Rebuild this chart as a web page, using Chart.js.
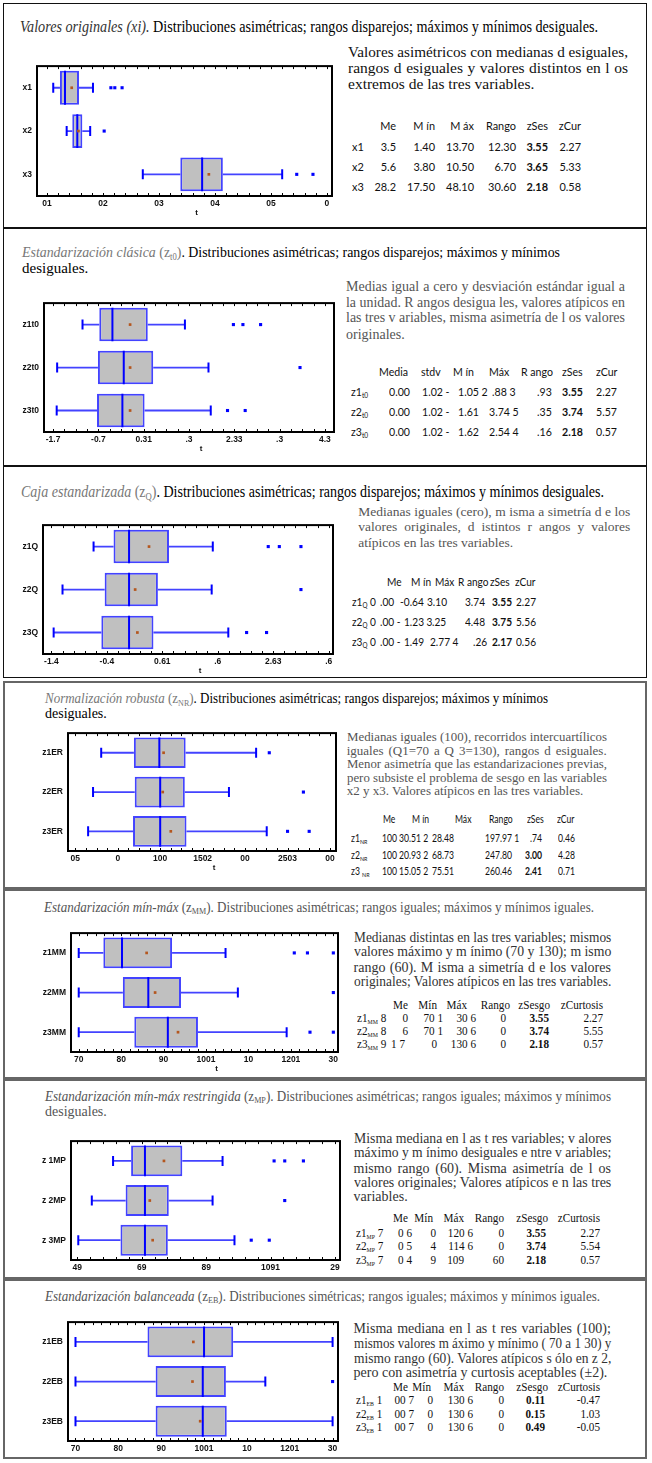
<!DOCTYPE html>
<html lang="es">
<head>
<meta charset="utf-8">
<title>Estandarizaciones</title>
<script src="https://cdn.jsdelivr.net/npm/chart.js@4.4.1/dist/chart.umd.min.js"></script>
<style>
  html, body { margin: 0; padding: 0; background: #fff; }
  body { position: relative; width: 652px; height: 1463px; overflow: hidden; }
  .panel { position: absolute; box-sizing: border-box; }
  .tx { position: absolute; white-space: nowrap; transform-origin: left center; }
  .tx sub { font-size: 0.62em; vertical-align: baseline; position: relative; top: 0.3em; }
  canvas { position: absolute; }
</style>
</head>
<body>
<script>
// --- Valores originales
const p1Labels = ['x1', 'x2', 'x3'];
const p1Boxes = [[11.1, 12.3, 13.2, 15.7, 18.2], [13.5, 14.5, 15.4, 16.3, 17.7], [27.1, 33.8, 37.7, 41.4, 52.0]];
const p1Means = [14.4, 15.6, 38.9];
const p1Outliers = [[21.4, 22.1, 23.4], [20.2], [54.6, 57.5]];
const p1Ticks = [10, 20, 30, 40, 50, 60];
const p1TickLabels = ['01', '02', '03', '04', '05', '0'];

// --- Estandarizacion clasica
const p2Labels = ['z1t0', 'z2t0', 'z3t0'];
const p2Boxes = [[-1.05, -0.68, -0.39, 0.39, 1.21], [-1.61, -0.71, -0.14, 0.51, 1.73], [-1.62, -0.73, -0.17, 0.32, 1.78]];
const p2Means = [0, 0, 0];
const p2Outliers = [[2.28, 2.49, 2.88], [3.75], [2.15, 2.54]];
const p2Ticks = [-1.7, -0.7, 0.3, 1.3, 2.3, 3.3, 4.3];
const p2TickLabels = ['-1.7', '-0.7', '0.31', '.3', '2.33', '.3', '4.3'];

// --- Caja estandarizada
const p3Labels = ['z1Q', 'z2Q', 'z3Q'];
const p3Boxes = [[-0.64, -0.28, 0, 0.72, 1.51], [-1.2, -0.44, 0, 0.52, 1.49], [-1.36, -0.5, 0, 0.44, 1.79]];
const p3Means = [0.36, 0.11, 0.15];
const p3Outliers = [[2.51, 2.71, 3.1], [3.1], [2.12, 2.48]];
const p3Ticks = [-1.4, -0.4, 0.6, 1.6, 2.6, 3.6];
const p3TickLabels = ['-1.4', '-0.4', '0.61', '.6', '2.63', '.6'];

// --- Normalizacion robusta
const p4Labels = ['z1ER', 'z2ER', 'z3ER'];
const p4Boxes = [[30.5, 69, 99, 130, 213], [20.9, 70, 100, 129, 181], [15.1, 68, 100, 131, 225.5]];
const p4Means = [104, 103, 112.5];
const p4Outliers = [[228.5], [268.7], [250, 275.5]];
const p4Ticks = [0, 50, 100, 150, 200, 250, 300];
const p4TickLabels = ['05', '0', '100', '1502', '00', '2503', '00'];

// --- min-max
const p5Labels = ['z1MM', 'z2MM', 'z3MM'];
const p5Boxes = [[70, 75.8, 80.2, 92.0, 104.6], [70, 80.4, 86.4, 94.1, 107.5], [70, 83.1, 91.0, 98.1, 119.0]];
const p5Means = [86.0, 88.0, 93.4];
const p5Outliers = [[120.8, 123.9, 130], [130], [124.5, 130]];
const p5Ticks = [70, 80, 90, 100, 110, 120, 130];
const p5TickLabels = ['70', '80', '90', '1001', '10', '1201', '30'];

// --- min-max restringida
const p6Labels = ['z 1MP', 'z 2MP', 'z 3MP'];
const p6Boxes = [[60.1, 65.7, 70, 81.6, 94.1], [53.5, 64.0, 70, 77.4, 91.0], [49.3, 62.4, 70, 77.1, 97.8]];
const p6Means = [75.9, 71.5, 72.4];
const p6Outliers = [[110.1, 113.4, 119.2], [113.4], [103, 108.6]];
const p6Ticks = [49, 69, 89, 109, 129];
const p6TickLabels = ['49', '69', '89', '1091', '29'];

// --- balanceada
const p7Labels = ['z1EB', 'z2EB', 'z3EB'];
const p7Boxes = [[70, 86.8, 100, 106.8, 130], [70, 88.7, 99.7, 105.1, 114.3], [70, 88.7, 99.7, 105.3, 130]];
const p7Means = [97.5, 97.3, 99.1];
const p7Outliers = [[], [130], []];
const p7Ticks = [70, 80, 90, 100, 110, 120, 130];
const p7TickLabels = ['70', '80', '90', '1001', '10', '1201', '30'];

const BLUE = '#0000ff';
const BOX_EDGE = 'rgba(20, 20, 255, 0.8)';
const MEAN_COLOR = '#b4561e';
const SERIF = '"Liberation Serif", "Times New Roman", serif';
const SANS = 'Lato, "Liberation Sans", sans-serif';

Chart.defaults.font.family = '"Liberation Sans", Arial, sans-serif';

// panel frames
const panels = [
  [3, 3, 647, 228, '1.5px solid #111'],
  [3, 228, 647, 466, '1.5px solid #111'],
  [3, 466, 647, 678, '1.5px solid #111'],
  [3, 681, 647, 889, '2px solid #666'],
  [3, 889, 647, 1078.5, '2px solid #666'],
  [3, 1078.5, 647, 1279, '2px solid #666'],
  [3, 1279, 647, 1459, '2px solid #666']
];
panels.forEach(([l, t, r, b, border]) => {
  const d = document.createElement('div');
  d.className = 'panel';
  d.style.left = l + 'px';
  d.style.top = t + 'px';
  d.style.width = (r - l) + 'px';
  d.style.height = (b - t) + 'px';
  d.style.border = border;
  document.body.appendChild(d);
});

function addText(html, x, y, size, family, color) {
  const el = document.createElement('div');
  el.className = 'tx';
  el.style.left = x + 'px';
  el.style.top = (y - size * 0.62) + 'px';
  el.style.fontSize = size + 'px';
  el.style.lineHeight = (size * 1.2) + 'px';
  el.style.fontFamily = family;
  el.style.color = color;
  el.innerHTML = html;
  document.body.appendChild(el);
  return el;
}

// stretch or squeeze one line to the width it has in the picture
function spread(el, w) {
  const nat = el.getBoundingClientRect().width;
  const gaps = (el.textContent.match(/ /g) || []).length;
  if (nat > w) {
    el.style.transform = 'scaleX(' + (w / nat) + ')';
  } else if (gaps) {
    el.style.wordSpacing = ((w - nat) / gaps) + 'px';
  }
}

function squeeze(el, w) {
  const nat = el.getBoundingClientRect().width;
  if (nat > w) el.style.transform = 'scaleX(' + (w / nat) + ')';
}

// titles
const titles = [
  { x: 20, y: 27, size: 16, w: 578, color: '#000', html: '<i style="color:#333">Valores originales (xi).</i> Distribuciones asimétricas; rangos disparejos; máximos y mínimos desiguales.' },
  { x: 22, y: 252.7, size: 15, w: 538, color: '#000', html: '<i style="color:#777">Estandarización clásica</i> <span style="color:#777">(z<sub>t0</sub>)</span>. Distribuciones asimétricas; rangos disparejos; máximos y mínimos' },
  { x: 22, y: 268.3, size: 15, color: '#000', html: 'desiguales.' },
  { x: 21, y: 491.7, size: 16, w: 583, color: '#000', html: '<i style="color:#777">Caja estandarizada</i> <span style="color:#777">(z<sub>Q</sub>)</span>. Distribuciones asimétricas; rangos disparejos; máximos y mínimos desiguales.' },
  { x: 45, y: 700, size: 14, w: 503, color: '#000', html: '<i style="color:#777">Normalización robusta</i> <span style="color:#777">(z<sub>NR</sub>)</span>. Distribuciones asimétricas; rangos disparejos; máximos y mínimos' },
  { x: 45, y: 714.3, size: 14, color: '#000', html: 'desiguales.' },
  { x: 44.3, y: 908.3, size: 14, w: 550, color: '#555', html: '<i>Estandarización mín-máx</i> (z<sub>MM</sub>). Distribuciones asimétricas; rangos iguales; máximos y mínimos iguales.' },
  { x: 45, y: 1097.3, size: 14, w: 566, color: '#555', html: '<i>Estandarización mín-máx restringida</i> (z<sub>MP</sub>). Distribuciones asimétricas; rangos iguales; máximos y mínimos' },
  { x: 45, y: 1112.3, size: 14, color: '#555', html: 'desiguales.' },
  { x: 45, y: 1297.3, size: 14, w: 555, color: '#555', html: '<i>Estandarización balanceada</i> (z<sub>EB</sub>). Distribuciones simétricas; rangos iguales; máximos y mínimos iguales.' }
];
titles.forEach(t => {
  const el = addText(t.html, t.x, t.y, t.size, SERIF, t.color);
  if (t.w) spread(el, t.w);
});

// paragraphs, one entry per printed line
const paras = [
  { x: 348, w: 280, size: 15.5, color: '#111', ys: [52.7, 69, 84.3], lines: [
    'Valores asimétricos con medianas d esiguales,',
    'rangos d esiguales y valores distintos en l os',
    'extremos de las tres variables.'] },
  { x: 346, w: 279, size: 14, color: '#555', ys: [287.7, 303.3, 319, 335.7], lines: [
    'Medias igual a cero y desviación estándar igual a',
    'la unidad. R angos desigua les, valores atípicos en',
    'las tres v ariables, misma asimetría de l os valores',
    'originales.'] },
  { x: 358.3, w: 272, size: 13.5, color: '#555', ys: [512.7, 527.7, 543.3], lines: [
    'Medianas iguales (cero), m isma a simetría d e los',
    'valores originales, d istintos r angos y valores',
    'atípicos en las tres variables.'] },
  { x: 346.7, w: 260, size: 13, color: '#555', ys: [737.3, 751, 764, 777.7, 790.7], lines: [
    'Medianas iguales (100), recorridos intercuartílicos',
    'iguales (Q1=70 a Q 3=130), rangos d esiguales.',
    'Menor asimetría que las estandarizaciones previas,',
    'pero subsiste el problema de sesgo en las variables',
    'x2 y x3. Valores atípicos en las tres variables.'] },
  { x: 353.6, w: 257.3, size: 14, color: '#333', ys: [938.3, 952.7, 968.7, 982.7], lines: [
    'Medianas distintas en las tres variables; mismos',
    'valores máximo y m ínimo (70 y 130); m ismo',
    'rango (60). M isma a simetría d e los valores',
    'originales; Valores atípicos en las tres variables.'] },
  { x: 353.6, w: 257.3, size: 14, color: '#333', ys: [1139.3, 1153.3, 1169.3, 1183.3, 1198], lines: [
    'Misma mediana en l as t res variables; v alores',
    'máximo y m ínimo desiguales e ntre v ariables;',
    'mismo rango (60). Misma asimetría de l os',
    'valores originales; Valores atípicos e n las tres',
    'variables.'] },
  { x: 353.6, w: 257.3, size: 14, color: '#333', ys: [1330, 1344.3, 1359.3, 1374], lines: [
    'Misma mediana en l as t res variables (100);',
    'mismos valores m áximo y mínimo ( 70 a 1 30) y',
    'mismo rango (60). Valores atípicos s ólo en z 2,',
    'pero con asimetría y curtosis aceptables (±2).'] }
];
paras.forEach(p => {
  p.lines.forEach((line, i) => {
    const el = addText(line, p.x, p.ys[i], p.size, SERIF, p.color);
    if (i < p.lines.length - 1) spread(el, p.w);
    else squeeze(el, p.w);
  });
});

// tables: [y, row label, cells, x of each cell]
const tables = [
  { family: SANS, size: 11.5, sx: 0.95, sub: '0.62em', color: '#111', align: 'right', labelX: 351.7, rows: [
    [126, '', ['Me', 'M ín', 'M áx', 'Rango', 'zSes', 'zCur'], [396, 435, 474, 516, 548, 581]],
    [146.7, 'x1', ['3.5', '1.40', '13.70', '12.30', '<b>3.55</b>', '2.27'], [396, 435, 474, 516, 548, 581]],
    [166.7, 'x2', ['5.6', '3.80', '10.50', '6.70', '<b>3.65</b>', '5.33'], [396, 435, 474, 516, 548, 581]],
    [186.7, 'x3', ['28.2', '17.50', '48.10', '30.60', '<b>2.18</b>', '0.58'], [396, 435, 474, 516, 548, 581]]] },
  { family: SANS, size: 11.5, sx: 0.92, sub: '0.62em', color: '#111', align: 'left', labelX: 350.7, rows: [
    [371.7, '', ['Media', 'stdv', 'M ín', 'Máx', 'R ango', 'zSes', 'zCur'], [379, 420.7, 453, 489, 520.7, 562, 595.7]],
    [391.7, 'z1<sub>t0</sub>', ['0.00', '1.02 -', '1.05 2', '.88 3', '.93', '<b>3.55</b>', '2.27'], [389, 421.7, 458, 492, 537, 562, 596]],
    [411.7, 'z2<sub>t0</sub>', ['0.00', '1.02 -', '1.61', '3.74 5', '.35', '<b>3.74</b>', '5.57'], [389, 421.7, 458, 489, 537, 562, 596]],
    [431.7, 'z3<sub>t0</sub>', ['0.00', '1.02 -', '1.62', '2.54 4', '.16', '<b>2.18</b>', '0.57'], [389, 421.7, 458, 489, 537, 562, 596]]] },
  { family: SANS, size: 11.5, sx: 0.88, sub: '0.62em', color: '#111', align: 'left', labelX: 351.7, rows: [
    [581.7, '', ['Me', 'M ín', 'Máx', 'R ango', 'zSes', 'zCur'], [386.7, 410.7, 435, 458.3, 490, 515]],
    [601.7, 'z1<sub>Q</sub> 0', ['.00', '-0.64', '3.10', '3.74', '<b>3.55</b>', '2.27'], [380, 400, 427.3, 465, 492.3, 515.7]],
    [621.7, 'z2<sub>Q</sub> 0', ['.00 -', '1.23 3', '.25', '4.48', '<b>3.75</b>', '5.56'], [380, 404, 431.7, 465, 492.3, 515.7]],
    [641.7, 'z3<sub>Q</sub> 0', ['.00 -', '1.49', '2.77 4', '.26', '<b>2.17</b>', '0.56'], [380, 404, 430, 472.7, 492.3, 515.7]]] },
  { family: SANS, size: 10.5, sx: 0.82, sub: '0.62em', color: '#111', align: 'left', labelX: 350.7, rows: [
    [820, '', ['Me', 'M ín', 'Máx', 'Rango', 'zSes', 'zCur'], [383.3, 411.7, 455, 489.3, 526.7, 556.7]],
    [838.3, 'z1<sub>NR</sub>', ['100', '30.51 2', '28.48', '197.97 1', '.74', '0.46'], [381.7, 398.6, 432.3, 485, 530, 557.7]],
    [855.7, 'z2<sub>NR</sub>', ['100', '20.93 2', '68.73', '247.80', '<b>3.00</b>', '4.28'], [381.7, 398.6, 432.3, 485, 525, 557.7]],
    [871.7, 'z3 <sub>NR</sub>', ['100', '15.05 2', '75.51', '260.46', '<b>2.41</b>', '0.71'], [381.7, 398.6, 432.3, 485, 525, 557.7]]] },
  { family: SERIF, size: 13, sx: 0.86, sub: '0.52em', color: '#111', align: 'right', labelX: 357, rows: [
    [1005, '', ['Me', 'Mín', 'Máx', 'Rango', 'zSesgo', 'zCurtosis'], [408, 437, 466.5, 509.6, 550, 602.5]],
    [1017.7, 'z1<sub>MM</sub> 8', ['0', '70 1', '30 6', '0', '<b>3.55</b>', '2.27'], [408, 442.7, 476, 506, 549, 602.5]],
    [1031, 'z2<sub>MM</sub> 8', ['6', '70 1', '30 6', '0', '<b>3.74</b>', '5.55'], [408, 442.7, 476, 506, 549, 602.5]],
    [1044.3, 'z3<sub>MM</sub> 9', ['1 7', '0', '130 6', '0', '<b>2.18</b>', '0.57'], [405, 437, 476, 506, 549, 602.5]]] },
  { family: SERIF, size: 13, sx: 0.86, sub: '0.52em', color: '#111', align: 'right', labelX: 355.6, rows: [
    [1218.3, '', ['Me', 'Mín', 'Máx', 'Rango', 'zSesgo', 'zCurtosis'], [408, 433, 464.4, 504, 548, 600.4]],
    [1232.7, 'z1<sub>MP</sub> 7', ['0 6', '0', '120 6', '0', '<b>3.55</b>', '2.27'], [412, 436, 473, 504, 546, 600]],
    [1245.7, 'z2<sub>MP</sub> 7', ['0 5', '4', '114 6', '0', '<b>3.74</b>', '5.54'], [412, 436, 473, 504, 546, 600]],
    [1260, 'z3<sub>MP</sub> 7', ['0 4', '9', '109', '60', '<b>2.18</b>', '0.57'], [412, 436, 464, 504, 546, 600]]] },
  { family: SERIF, size: 13, sx: 0.86, sub: '0.52em', color: '#111', align: 'right', labelX: 355.6, rows: [
    [1387.3, '', ['Me', 'Mín', 'Máx', 'Rango', 'zSesgo', 'zCurtosis'], [408, 431, 464.4, 504, 548, 600.4]],
    [1400, 'z1<sub>EB</sub> 1', ['00 7', '0', '130 6', '0', '<b>0.11</b>', '-0.47'], [414, 433, 473, 504, 545, 600]],
    [1414, 'z2<sub>EB</sub> 1', ['00 7', '0', '130 6', '0', '<b>0.15</b>', '1.03'], [414, 433, 473, 504, 545, 600]],
    [1426.7, 'z3<sub>EB</sub> 1', ['00 7', '0', '130 6', '0', '<b>0.49</b>', '-0.05'], [414, 433, 473, 504, 545, 600]]] }
];
tables.forEach(t => {
  t.rows.forEach(([y, label, cells, xs]) => {
    if (label) {
      const lab = addText(label, t.labelX, y, t.size, t.family, t.color);
      lab.style.transform = 'scaleX(' + t.sx + ')';
      lab.querySelectorAll('sub').forEach(s => { s.style.fontSize = t.sub; });
    }
    cells.forEach((c, i) => {
      const el = addText(c, xs[i], y, t.size, t.family, t.color);
      if (t.align === 'right') {
        el.style.transformOrigin = '100% 50%';
        el.style.transform = 'translateX(-100%) scaleX(' + t.sx + ')';
      } else {
        el.style.transform = 'scaleX(' + t.sx + ')';
      }
    });
  });
});

// whiskers, medians, frame, inner ticks
const boxParts = {
  id: 'boxParts',
  afterDatasetDraw(chart, args, opts) {
    if (args.index !== 0) return;
    const ctx = chart.ctx;
    const x = chart.scales.x;
    const p = v => x.getPixelForValue(v);
    ctx.save();
    args.meta.data.forEach((bar, i) => {
      const [lo, q1, med, q3, hi] = opts.boxes[i];
      const y = bar.y;
      const half = bar.height / 2;
      ctx.strokeStyle = BOX_EDGE;
      ctx.lineWidth = 1.8;
      ctx.beginPath();
      ctx.moveTo(p(lo), y);
      ctx.lineTo(p(q1), y);
      ctx.moveTo(p(q3), y);
      ctx.lineTo(p(hi), y);
      ctx.stroke();
      ctx.strokeStyle = BLUE;
      ctx.lineWidth = 2;
      ctx.beginPath();
      ctx.moveTo(p(lo), y - 5);
      ctx.lineTo(p(lo), y + 5);
      ctx.moveTo(p(hi), y - 5);
      ctx.lineTo(p(hi), y + 5);
      ctx.moveTo(p(med), y - half);
      ctx.lineTo(p(med), y + half);
      ctx.stroke();
    });
    ctx.restore();
  },
  afterDraw(chart, args, opts) {
    const { ctx, chartArea: a } = chart;
    const x = chart.scales.x;
    ctx.save();
    ctx.strokeStyle = '#000';
    ctx.lineWidth = 1;
    ctx.beginPath();
    const first = opts.anchor + Math.ceil((x.min - opts.anchor) / opts.minor) * opts.minor;
    for (let k = 0; first + k * opts.minor <= x.max; k++) {
      const px = Math.round(x.getPixelForValue(first + k * opts.minor)) + 0.5;
      ctx.moveTo(px, a.top);
      ctx.lineTo(px, a.top + 3);
      ctx.moveTo(px, a.bottom);
      ctx.lineTo(px, a.bottom - 3);
    }
    ctx.stroke();
    ctx.lineWidth = 2;
    ctx.strokeRect(a.left, a.top, a.right - a.left, a.bottom - a.top);
    if (opts.axisTitle) {
      ctx.fillStyle = '#111';
      ctx.font = 'bold 8px "Liberation Sans"';
      ctx.textAlign = 'center';
      ctx.textBaseline = 'middle';
      ctx.fillText('t', (a.left + a.right) / 2 + 12, a.bottom + 17);
    }
    ctx.restore();
  }
};

const charts = [
  { plot: [37, 60, 332, 196], min: 8.2, max: 60.9, minor: 2, anchor: 10, axisTitle: true,
    labels: p1Labels, boxes: p1Boxes, means: p1Means, outliers: p1Outliers, ticks: p1Ticks, tickLabels: p1TickLabels },
  { plot: [44.3, 296.7, 334, 431.7], min: -1.9, max: 4.5, minor: 0.25, anchor: -1.7, axisTitle: true,
    labels: p2Labels, boxes: p2Boxes, means: p2Means, outliers: p2Outliers, ticks: p2Ticks, tickLabels: p2TickLabels },
  { plot: [43.3, 519, 333, 654.3], min: -1.552, max: 3.678, minor: 0.2, anchor: -1.4, axisTitle: true,
    labels: p3Labels, boxes: p3Boxes, means: p3Means, outliers: p3Outliers, ticks: p3Ticks, tickLabels: p3TickLabels },
  { plot: [67.7, 726.7, 336, 851], min: -8.6, max: 307.1, minor: 12.5, anchor: 0, axisTitle: true,
    labels: p4Labels, boxes: p4Boxes, means: p4Means, outliers: p4Outliers, ticks: p4Ticks, tickLabels: p4TickLabels },
  { plot: [71.3, 926.7, 338, 1051.7], min: 68.18, max: 131.1, minor: 2, anchor: 70, axisTitle: true,
    labels: p5Labels, boxes: p5Boxes, means: p5Means, outliers: p5Outliers, ticks: p5Ticks, tickLabels: p5TickLabels },
  { plot: [71.1, 1135, 339.7, 1260], min: 47.04, max: 130.56, minor: 4, anchor: 49, axisTitle: false,
    labels: p6Labels, boxes: p6Boxes, means: p6Means, outliers: p6Outliers, ticks: p6Ticks, tickLabels: p6TickLabels },
  { plot: [67.8, 1316, 338, 1441], min: 68.25, max: 131.26, minor: 2, anchor: 70, axisTitle: false,
    labels: p7Labels, boxes: p7Boxes, means: p7Means, outliers: p7Outliers, ticks: p7Ticks, tickLabels: p7TickLabels }
];

function drawBoxChart(cfg) {
  const [L, T, R, B] = cfg.plot;
  const yW = 40, padT = 4, padR = 10, xH = 26;
  const w = Math.round(R - L) + yW + padR;
  const h = Math.round(B - T) + padT + xH;
  const canvas = document.createElement('canvas');
  canvas.width = w;
  canvas.height = h;
  canvas.style.left = (L - yW) + 'px';
  canvas.style.top = (T - padT) + 'px';
  canvas.style.width = w + 'px';
  canvas.style.height = h + 'px';
  document.body.appendChild(canvas);

  const tickFont = { family: '"Liberation Sans"', size: 8.5, weight: 'bold' };

  return new Chart(canvas.getContext('2d'), {
    type: 'bar',
    data: {
      labels: cfg.labels,
      datasets: [
        {
          type: 'bar',
          data: cfg.boxes.map(b => [b[1], b[3]]),
          backgroundColor: '#c0c0c0',
          borderColor: BOX_EDGE,
          borderWidth: 2,
          borderSkipped: false,
          categoryPercentage: 0.78,
          barPercentage: 1,
          order: 2
        },
        {
          type: 'scatter',
          data: cfg.means.map((m, i) => ({ x: m, y: cfg.labels[i] })),
          pointStyle: 'rect',
          pointRadius: 1.9,
          backgroundColor: MEAN_COLOR,
          borderWidth: 0,
          order: 1
        },
        {
          type: 'scatter',
          data: cfg.outliers.flatMap((arr, i) => arr.map(v => ({ x: v, y: cfg.labels[i] }))),
          pointStyle: 'rect',
          pointRadius: 2.2,
          backgroundColor: BLUE,
          borderWidth: 0,
          order: 0
        }
      ]
    },
    options: {
      indexAxis: 'y',
      responsive: false,
      maintainAspectRatio: false,
      animation: false,
      events: [],
      layout: { padding: { top: padT, right: padR, left: 0, bottom: 0 } },
      plugins: {
        legend: { display: false },
        tooltip: { enabled: false },
        boxParts: { boxes: cfg.boxes, minor: cfg.minor, anchor: cfg.anchor, axisTitle: cfg.axisTitle }
      },
      scales: {
        x: {
          type: 'linear',
          position: 'bottom',
          min: cfg.min,
          max: cfg.max,
          grid: { display: false, drawTicks: false },
          border: { display: false },
          afterBuildTicks: s => { s.ticks = cfg.ticks.map(v => ({ value: v })); },
          afterFit: s => { s.height = xH; },
          ticks: {
            autoSkip: false,
            maxRotation: 0,
            padding: 3,
            color: '#111',
            font: tickFont,
            callback: (v, i) => cfg.tickLabels[i]
          }
        },
        y: {
          type: 'category',
          offset: true,
          grid: { display: false, drawTicks: false },
          border: { display: false },
          afterFit: s => { s.width = yW; },
          ticks: { padding: 5, color: '#111', font: tickFont }
        }
      }
    },
    plugins: [boxParts]
  });
}

charts.forEach(drawBoxChart);
</script>
</body>
</html>
